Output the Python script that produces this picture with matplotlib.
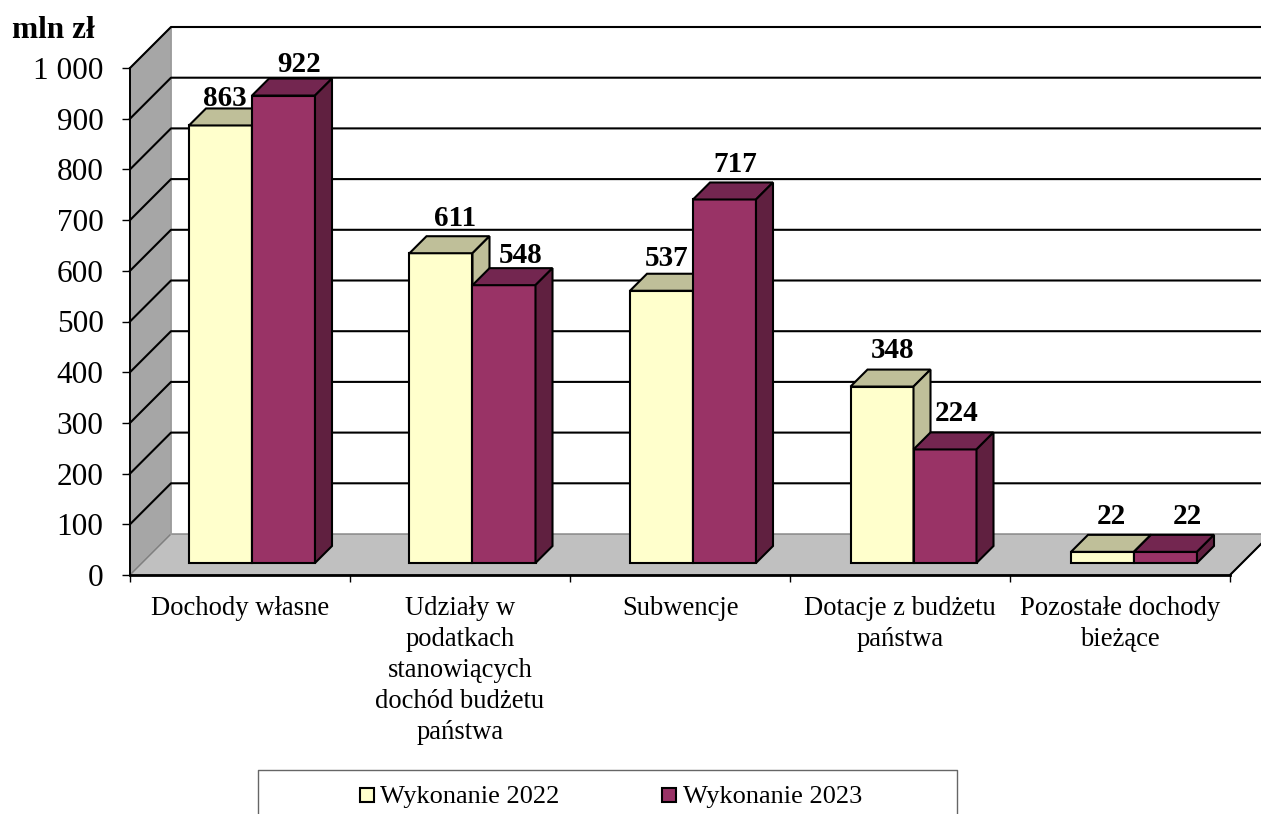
import matplotlib
matplotlib.use('Agg')
import matplotlib.pyplot as plt
from matplotlib.patches import Polygon, Rectangle
from matplotlib.lines import Line2D

plt.rcParams['font.family'] = ['Liberation Serif', 'DejaVu Serif']

# dane
categories = ['Dochody własne',
              'Udziały w\npodatkach\nstanowiących\ndochód budżetu\npaństwa',
              'Subwencje',
              'Dotacje z budżetu\npaństwa',
              'Pozostałe dochody\nbieżące']
series_names = ['Wykonanie 2022', 'Wykonanie 2023']
values_2022 = [863, 611, 537, 348, 22]
values_2023 = [922, 548, 717, 224, 22]
y_ticks = [0, 100, 200, 300, 400, 500, 600, 700, 800, 900, 1000]
y_tick_labels = ['0', '100', '200', '300', '400', '500', '600', '700', '800', '900', '1 000']

# układ (piksele)
W, H = 1261, 814
LEFT, RIGHT, BOTTOM, TOP = 130, 1230, 575, 68
WALL = 41          # głębokość ścian
BAR_D0, BAR_D1 = 12, 29   # głębokość słupka
BAR_W = 63
BAR_SHIFT = 47     # od lewej krawędzi kategorii do słupka

# przesunięcia etykiet wartości względem środka słupka (px)
offs_2022 = [(4, -27), (14, -35), (5, -32), (11, -36), (9, -35)]
offs_2023 = [(16, -31), (17, -30), (11, -35), (12, -36), (22, -35)]

C_YELLOW = ('#FFFFCC', '#BFBF99', '#BFBF99')
C_PURPLE = ('#993366', '#732650', '#602040')

fig = plt.figure(figsize=(W / 100, H / 100), dpi=100, facecolor='white')
ax = fig.add_axes([LEFT / W, 1 - BOTTOM / H, (RIGHT - LEFT) / W, (BOTTOM - TOP) / H])
ax.set_xlim(0, 5)
ax.set_ylim(0, 1000)
ax.patch.set_visible(False)

px_x = 5 / (RIGHT - LEFT)
px_y = 1000 / (BOTTOM - TOP)

def pt(x, v, depth=0, dx=0, dy=0):
    # punkt z wartości danych + przesunięcie w głąb i w pikselach
    return (x + (depth + dx) * px_x, v + (depth - dy) * px_y)

def poly(points, face, edge='black', lw=1.5, z=2):
    ax.add_patch(Polygon(points, closed=True, facecolor=face, edgecolor=edge,
                         linewidth=lw, clip_on=False, zorder=z, joinstyle='miter'))

def line(points, color='black', lw=1.5, z=2):
    xs, ys = zip(*points)
    ax.add_line(Line2D(xs, ys, color=color, linewidth=lw, clip_on=False, zorder=z))

# ściany i podłoga
poly([pt(0, 0), pt(0, 0, WALL), pt(0, 1000, WALL), pt(0, 1000)], '#A6A6A6', edge='#8C8C8C', lw=1.0, z=1)
poly([pt(0, 0), pt(5, 0), pt(5, 0, WALL), pt(0, 0, WALL)], '#C0C0C0', edge='#808080', lw=1.0, z=1)
line([pt(0, 1000, WALL), pt(0, 0, WALL)], color='#A0A0A0', lw=1.2, z=1.5)

# siatka
for v in y_ticks[1:]:
    end = (W - LEFT) / (RIGHT - LEFT) * 5
    line([pt(0, v), pt(0, v, WALL), (end, v + WALL * px_y)], z=1.6)
line([pt(5, 0), pt(5, 0, WALL)], z=1.6)

# słupki
def bar(x_px, val, colors):
    x0 = x_px * px_x
    x1 = x0 + BAR_W * px_x
    front, top, side = colors
    poly([pt(x0, 0, BAR_D0), pt(x1, 0, BAR_D0), pt(x1, val, BAR_D0), pt(x0, val, BAR_D0)], front)
    poly([pt(x0, val, BAR_D0), pt(x1, val, BAR_D0), pt(x1, val, BAR_D1), pt(x0, val, BAR_D1)], top)
    poly([pt(x1, 0, BAR_D0), pt(x1, 0, BAR_D1), pt(x1, val, BAR_D1), pt(x1, val, BAR_D0)], side)

for i in range(len(categories)):
    x_a = i * 220.5 + BAR_SHIFT
    x_b = x_a + BAR_W
    bar(x_a, values_2022[i], C_YELLOW)
    bar(x_b, values_2023[i], C_PURPLE)
    for xp, val, off in ((x_a, values_2022[i], offs_2022[i]), (x_b, values_2023[i], offs_2023[i])):
        tx, ty = pt((xp + BAR_W / 2) * px_x, val, BAR_D0, off[0], off[1])
        ax.text(tx, ty, str(val), ha='center', va='center', fontsize=21,
                fontweight='bold', color='black', clip_on=False, zorder=5)

# osie
for s in ('top', 'right'):
    ax.spines[s].set_visible(False)
ax.spines['left'].set_linewidth(1.4)
ax.spines['bottom'].set_linewidth(2.0)
ax.spines['left'].set_zorder(3)
ax.spines['bottom'].set_zorder(3)
ax.set_yticks(y_ticks)
ax.set_yticklabels(y_tick_labels, fontsize=22.5)
ax.tick_params(axis='y', length=6, width=1.0, pad=13)
ax.set_xticks(range(6))
ax.set_xticklabels([])
ax.tick_params(axis='x', length=5, width=1.0)

for i, name in enumerate(categories):
    ax.text(i + 0.5, pt(0, 0, dy=21)[1], name, ha='center', va='top', fontsize=19.2,
            linespacing=1.32, clip_on=False)

fig.text(12 / W, 1 - 31 / H, 'mln zł', fontsize=22.5, fontweight='bold', ha='left', va='center')

# legenda (przycięta od dołu jak w oryginale)
fig.add_artist(Line2D([258 / W, 258 / W, 957 / W, 957 / W],
                      [0, 1 - 770 / H, 1 - 770 / H, 0], color='#666666', linewidth=1.0))
for name, col, bx, tx in ((series_names[0], C_YELLOW[0], 360, 380), (series_names[1], C_PURPLE[0], 662, 683)):
    fig.add_artist(Rectangle((bx / W, 1 - 802 / H), 14 / W, 14 / H, transform=fig.transFigure,
                             facecolor=col, edgecolor='black', linewidth=1.5))
    fig.text(tx / W, 1 - 797 / H, name, fontsize=19, ha='left', va='center')

fig.savefig('out.png', dpi=100)
